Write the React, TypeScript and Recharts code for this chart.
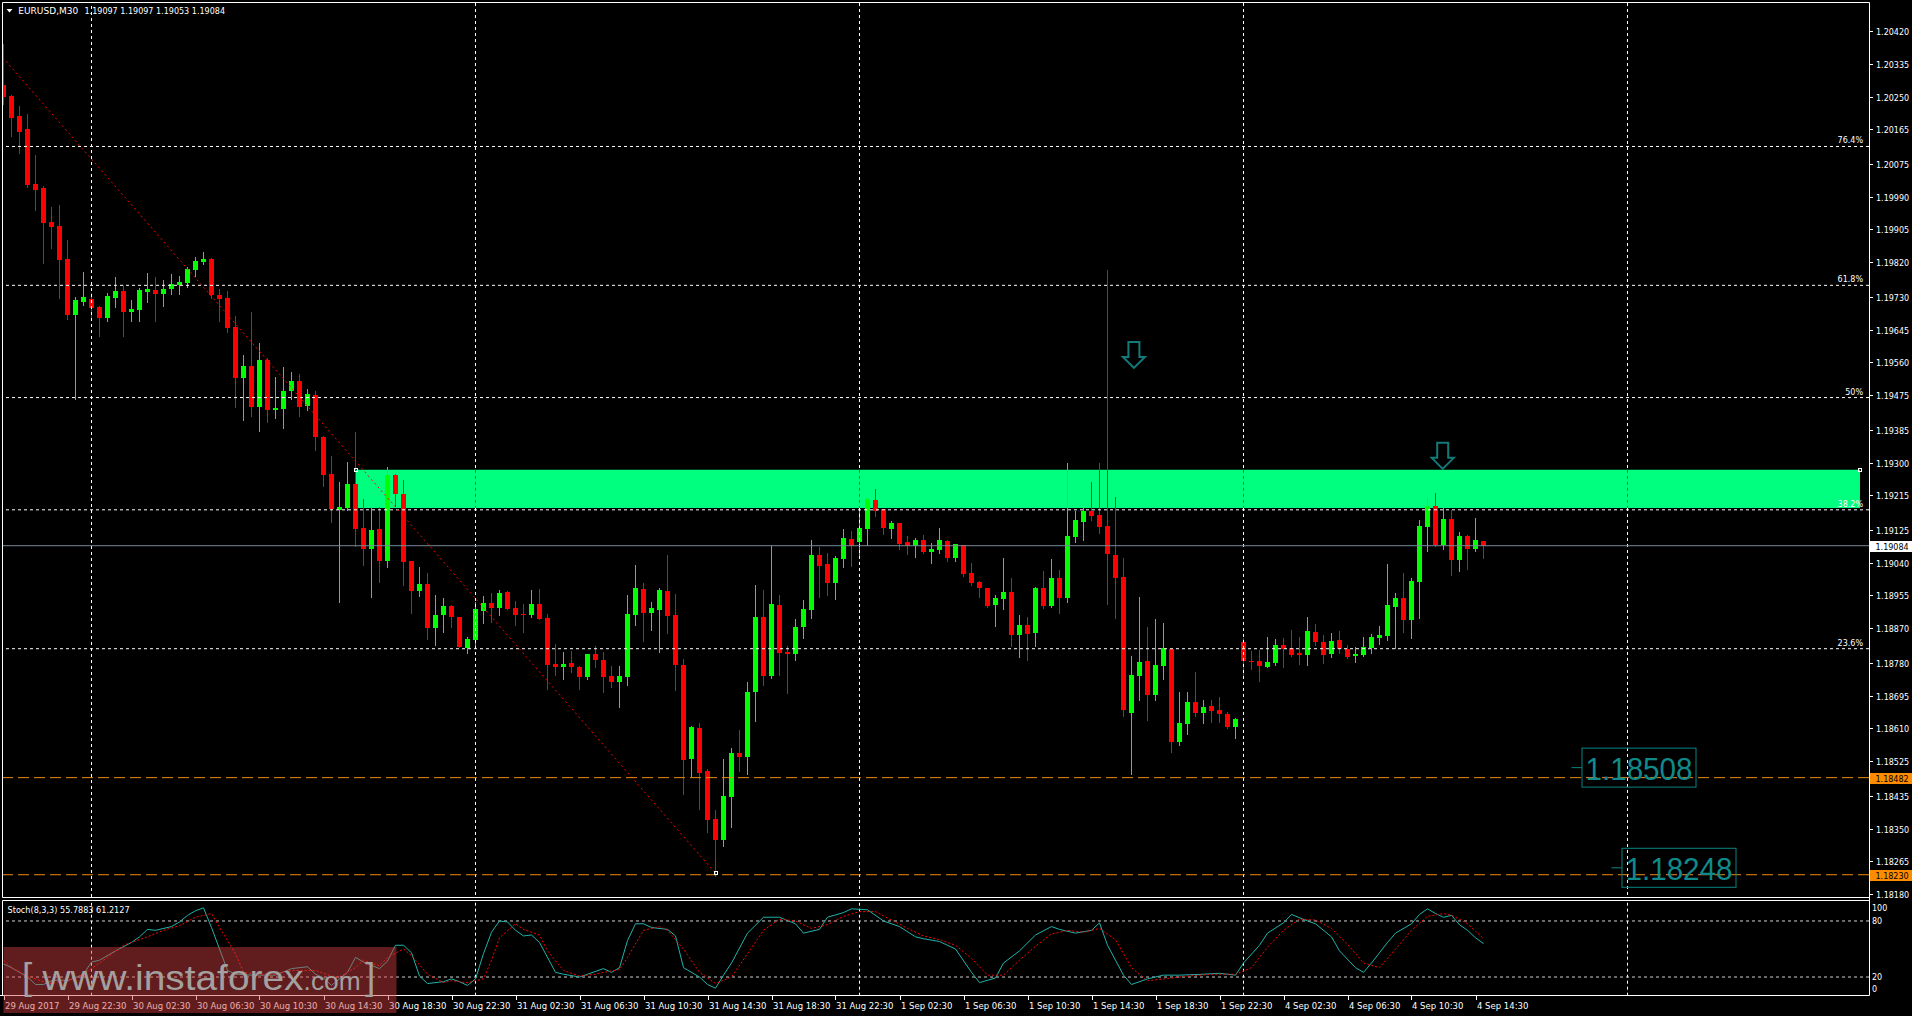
import React from "react";
import { ComposedChart, Bar, Line, XAxis, YAxis, ReferenceLine, ReferenceArea, ReferenceDot } from "recharts";

// ---------- data (EURUSD M30, bar 0 = 29 Aug 2017 18:30) ----------
const OPEN = [
  1.20279, 1.20252, 1.20200, 1.20165, 1.20023, 1.20013, 1.19924, 1.19914, 1.19828, 1.19684,
  1.19716, 1.19724, 1.19703, 1.19675, 1.19727, 1.19744, 1.19691, 1.19696, 1.19743, 1.19747,
  1.19738, 1.19750, 1.19760, 1.19765, 1.19800, 1.19820, 1.19828, 1.19736, 1.19726, 1.19651,
  1.19519, 1.19550, 1.19444, 1.19566, 1.19437, 1.19439, 1.19485, 1.19511, 1.19446, 1.19476,
  1.19366, 1.19270, 1.19178, 1.19182, 1.19244, 1.19130, 1.19076, 1.19127, 1.19045, 1.19268,
  1.19218, 1.19044, 1.18967, 1.18985, 1.18871, 1.18903, 1.18928, 1.18899, 1.18819, 1.18838,
  1.18915, 1.18935, 1.18923, 1.18964, 1.18922, 1.18907, 1.18905, 1.18933, 1.18896, 1.18777,
  1.18768, 1.18780, 1.18769, 1.18742, 1.18803, 1.18787, 1.18746, 1.18730, 1.18743, 1.18904,
  1.18972, 1.18909, 1.18917, 1.18966, 1.18904, 1.18774, 1.18530, 1.18611, 1.18499, 1.18375,
  1.18320, 1.18432, 1.18546, 1.18536, 1.18704, 1.18899, 1.18746, 1.18930, 1.18808, 1.18803,
  1.18873, 1.18917, 1.19060, 1.19037, 1.18987, 1.19050, 1.19101, 1.19094, 1.19127, 1.19203,
  1.19179, 1.19127, 1.19143, 1.19094, 1.19082, 1.19099, 1.19068, 1.19073, 1.19096, 1.19053,
  1.19086, 1.19013, 1.18989, 1.18974, 1.18931, 1.18946, 1.18964, 1.18851, 1.18878, 1.18858,
  1.18974, 1.18928, 1.19000, 1.18949, 1.19107, 1.19146, 1.19174, 1.19164, 1.19135, 1.19060,
  1.19003, 1.18651, 1.18745, 1.18785, 1.18696, 1.18773, 1.18815, 1.18575, 1.18622, 1.18678,
  1.18651, 1.18667, 1.18658, 1.18647, 1.18614, 1.18834, 1.18786, 1.18785, 1.18770, 1.18780,
  1.18826, 1.18818, 1.18806, 1.18801, 1.18860, 1.18834, 1.18804, 1.18839, 1.18816, 1.18799,
  1.18801, 1.18819, 1.18845, 1.18850, 1.18926, 1.18948, 1.18892, 1.18991, 1.19133, 1.19187,
  1.19087, 1.19153, 1.19048, 1.19109, 1.19076, 1.19097,
];
const HIGH = [
  1.20385, 1.20255, 1.20226, 1.20205, 1.20098, 1.20017, 1.19963, 1.19968, 1.19877, 1.19729,
  1.19794, 1.19739, 1.19707, 1.19740, 1.19781, 1.19760, 1.19721, 1.19753, 1.19791, 1.19781,
  1.19773, 1.19789, 1.19784, 1.19807, 1.19833, 1.19846, 1.19830, 1.19751, 1.19744, 1.19680,
  1.19578, 1.19690, 1.19610, 1.19570, 1.19521, 1.19547, 1.19534, 1.19530, 1.19492, 1.19485,
  1.19369, 1.19317, 1.19250, 1.19301, 1.19379, 1.19204, 1.19185, 1.19185, 1.19288, 1.19269,
  1.19255, 1.19045, 1.19029, 1.19013, 1.18956, 1.18948, 1.18930, 1.18900, 1.18846, 1.18939,
  1.18954, 1.18961, 1.18969, 1.18967, 1.18941, 1.18933, 1.18969, 1.18972, 1.18907, 1.18830,
  1.18809, 1.18812, 1.18772, 1.18803, 1.18824, 1.18809, 1.18772, 1.18772, 1.18956, 1.19034,
  1.18987, 1.18938, 1.18974, 1.19060, 1.18959, 1.18790, 1.18616, 1.18624, 1.18504, 1.18398,
  1.18530, 1.18559, 1.18606, 1.18730, 1.18982, 1.18969, 1.19083, 1.18956, 1.18824, 1.18894,
  1.18943, 1.19099, 1.19081, 1.19065, 1.19057, 1.19127, 1.19122, 1.19177, 1.19208, 1.19231,
  1.19179, 1.19148, 1.19143, 1.19109, 1.19104, 1.19111, 1.19091, 1.19130, 1.19099, 1.19089,
  1.19086, 1.19039, 1.18992, 1.18974, 1.18956, 1.19052, 1.19000, 1.18904, 1.18899, 1.18977,
  1.19018, 1.19049, 1.19021, 1.19298, 1.19174, 1.19181, 1.19249, 1.19298, 1.19799, 1.19210,
  1.19052, 1.18797, 1.18951, 1.18873, 1.18894, 1.18883, 1.18815, 1.18704, 1.18704, 1.18756,
  1.18683, 1.18684, 1.18691, 1.18652, 1.18637, 1.18844, 1.18811, 1.18813, 1.18847, 1.18842,
  1.18844, 1.18865, 1.18847, 1.18899, 1.18881, 1.18852, 1.18857, 1.18863, 1.18826, 1.18821,
  1.18847, 1.18856, 1.18876, 1.19037, 1.18961, 1.19013, 1.19000, 1.19151, 1.19208, 1.19221,
  1.19182, 1.19177, 1.19120, 1.19113, 1.19156, 1.19097,
];
const LOW = [
  1.20231, 1.20147, 1.20104, 1.20016, 1.19955, 1.19817, 1.19857, 1.19727, 1.19673, 1.19464,
  1.19710, 1.19673, 1.19629, 1.19667, 1.19704, 1.19629, 1.19666, 1.19667, 1.19717, 1.19666,
  1.19707, 1.19738, 1.19738, 1.19756, 1.19785, 1.19814, 1.19728, 1.19666, 1.19640, 1.19444,
  1.19411, 1.19420, 1.19382, 1.19404, 1.19416, 1.19390, 1.19464, 1.19420, 1.19436, 1.19332,
  1.19239, 1.19146, 1.18939, 1.19177, 1.19082, 1.19034, 1.18952, 1.18991, 1.19030, 1.19187,
  1.18982, 1.18910, 1.18954, 1.18842, 1.18826, 1.18860, 1.18874, 1.18820, 1.18806, 1.18822,
  1.18884, 1.18887, 1.18905, 1.18920, 1.18878, 1.18861, 1.18900, 1.18893, 1.18713, 1.18749,
  1.18737, 1.18755, 1.18713, 1.18737, 1.18770, 1.18705, 1.18718, 1.18666, 1.18722, 1.18878,
  1.18837, 1.18865, 1.18808, 1.18857, 1.18709, 1.18440, 1.18486, 1.18401, 1.18341, 1.18227,
  1.18305, 1.18354, 1.18499, 1.18491, 1.18629, 1.18722, 1.18741, 1.18748, 1.18702, 1.18787,
  1.18844, 1.18896, 1.18951, 1.18956, 1.18946, 1.19029, 1.19031, 1.19057, 1.19086, 1.19161,
  1.19114, 1.19104, 1.19075, 1.19062, 1.19055, 1.19066, 1.19040, 1.19066, 1.19045, 1.19045,
  1.19006, 1.18983, 1.18952, 1.18924, 1.18876, 1.18920, 1.18824, 1.18794, 1.18788, 1.18824,
  1.18923, 1.18926, 1.18910, 1.18938, 1.19094, 1.19100, 1.19152, 1.19117, 1.18933, 1.18897,
  1.18643, 1.18492, 1.18683, 1.18632, 1.18684, 1.18738, 1.18549, 1.18567, 1.18594, 1.18643,
  1.18625, 1.18627, 1.18627, 1.18612, 1.18586, 1.18744, 1.18764, 1.18734, 1.18768, 1.18775,
  1.18770, 1.18799, 1.18778, 1.18775, 1.18827, 1.18780, 1.18796, 1.18806, 1.18793, 1.18783,
  1.18799, 1.18806, 1.18830, 1.18840, 1.18819, 1.18861, 1.18845, 1.18897, 1.19069, 1.19084,
  1.19076, 1.19009, 1.19019, 1.19024, 1.19069, 1.19053,
];
const CLOSE = [
  1.20250, 1.20195, 1.20159, 1.20021, 1.20008, 1.19922, 1.19911, 1.19825, 1.19684, 1.19721,
  1.19729, 1.19701, 1.19675, 1.19732, 1.19744, 1.19691, 1.19698, 1.19747, 1.19750, 1.19738,
  1.19750, 1.19763, 1.19768, 1.19802, 1.19823, 1.19828, 1.19736, 1.19725, 1.19649, 1.19519,
  1.19550, 1.19444, 1.19566, 1.19435, 1.19442, 1.19485, 1.19511, 1.19444, 1.19478, 1.19365,
  1.19268, 1.19179, 1.19185, 1.19244, 1.19128, 1.19076, 1.19125, 1.19045, 1.19268, 1.19217,
  1.19043, 1.18967, 1.18985, 1.18871, 1.18904, 1.18928, 1.18900, 1.18822, 1.18842, 1.18920,
  1.18935, 1.18923, 1.18961, 1.18921, 1.18905, 1.18903, 1.18933, 1.18895, 1.18775, 1.18768,
  1.18777, 1.18768, 1.18742, 1.18803, 1.18788, 1.18744, 1.18730, 1.18746, 1.18907, 1.18974,
  1.18909, 1.18922, 1.18969, 1.18902, 1.18774, 1.18528, 1.18613, 1.18494, 1.18372, 1.18320,
  1.18434, 1.18546, 1.18536, 1.18704, 1.18899, 1.18746, 1.18933, 1.18806, 1.18803, 1.18873,
  1.18920, 1.19060, 1.19031, 1.18987, 1.19052, 1.19104, 1.19083, 1.19130, 1.19205, 1.19174,
  1.19130, 1.19143, 1.19088, 1.19082, 1.19099, 1.19068, 1.19075, 1.19099, 1.19053, 1.19089,
  1.19011, 1.18988, 1.18973, 1.18928, 1.18948, 1.18964, 1.18851, 1.18878, 1.18856, 1.18974,
  1.18928, 1.19000, 1.18949, 1.19109, 1.19151, 1.19174, 1.19160, 1.19132, 1.19063, 1.19001,
  1.18658, 1.18748, 1.18781, 1.18696, 1.18774, 1.18818, 1.18575, 1.18623, 1.18678, 1.18651,
  1.18666, 1.18656, 1.18648, 1.18614, 1.18634, 1.18786, 1.18782, 1.18773, 1.18782, 1.18826,
  1.18816, 1.18801, 1.18801, 1.18863, 1.18835, 1.18801, 1.18837, 1.18816, 1.18796, 1.18803,
  1.18821, 1.18847, 1.18853, 1.18930, 1.18948, 1.18892, 1.18992, 1.19135, 1.19187, 1.19087,
  1.19153, 1.19048, 1.19109, 1.19076, 1.19099, 1.19084,
];

const TIME_TICK_BARS = [0, 8, 16, 24, 32, 40, 48, 56, 64, 72, 80, 88, 96, 104, 112, 120, 128, 136, 144, 152, 160, 168, 176, 184];
const TIME_LABELS = [
  "29 Aug 2017", "29 Aug 22:30", "30 Aug 02:30", "30 Aug 06:30", "30 Aug 10:30", "30 Aug 14:30",
  "30 Aug 18:30", "30 Aug 22:30", "31 Aug 02:30", "31 Aug 06:30", "31 Aug 10:30", "31 Aug 14:30",
  "31 Aug 18:30", "31 Aug 22:30", "1 Sep 02:30", "1 Sep 06:30", "1 Sep 10:30", "1 Sep 14:30",
  "1 Sep 18:30", "1 Sep 22:30", "4 Sep 02:30", "4 Sep 06:30", "4 Sep 10:30", "4 Sep 14:30",
];
const PRICE_TICKS = [
  1.2042, 1.20335, 1.2025, 1.20165, 1.20075, 1.1999, 1.19905, 1.1982, 1.1973, 1.19645, 1.1956,
  1.19475, 1.19385, 1.193, 1.19215, 1.19125, 1.1904, 1.18955, 1.1887, 1.1878, 1.18695, 1.1861,
  1.18525, 1.18435, 1.1835, 1.18265, 1.1818,
];
const GRID_BARS = [11, 59, 107, 155, 203];

const STOCH_MAIN = [
  [0, 34], [1, 30], [3, 20], [4, 12], [5, 12], [6, 16], [7, 17], [8, 16], [10, 23], [11, 36], [12, 38],
  [14, 48], [16, 57], [17, 63], [18, 71], [19, 70], [21, 74], [22, 79], [23, 86], [24, 91], [25, 94],
  [26, 73], [27, 50], [28, 27], [29, 23], [31, 22], [33, 22], [34, 22], [36, 29], [38, 31], [39, 23],
  [40, 19], [41, 11], [43, 25], [44, 41], [45, 36], [47, 29], [48, 37], [49, 54], [50, 54], [51, 46],
  [52, 21], [53, 13], [55, 15], [56, 18], [57, 15], [58, 11], [59, 18], [60, 45], [61, 68], [62, 80],
  [63, 79], [64, 70], [65, 64], [66, 65], [67, 57], [69, 25], [70, 23], [72, 20], [73, 23], [75, 29],
  [76, 25], [77, 30], [78, 59], [79, 77], [80, 77], [81, 73], [83, 71], [84, 64], [85, 30], [87, 20],
  [88, 12], [89, 8], [90, 22], [91, 35], [93, 67], [95, 84], [97, 84], [99, 77], [100, 67], [102, 71],
  [103, 84], [105, 89], [106, 93], [108, 92], [110, 80], [112, 74], [114, 63], [115, 61], [117, 58],
  [119, 50], [121, 25], [122, 14], [124, 19], [125, 35], [127, 48], [129, 65], [131, 74], [132, 71],
  [134, 67], [136, 70], [137, 78], [138, 54], [140, 22], [141, 12], [143, 18], [145, 22], [147, 22],
  [150, 23], [152, 24], [154, 22], [155, 35], [157, 54], [158, 67], [160, 78], [161, 87], [163, 80],
  [164, 77], [166, 63], [167, 48], [169, 30], [170, 25], [171, 35], [173, 57], [174, 67], [176, 77],
  [177, 87], [178, 93], [179, 88], [180, 84], [181, 86], [182, 76], [183, 70], [184, 62], [185, 55.7883],
];
const STOCH_SIGNAL = [
  [0, 38], [1, 30], [3, 21], [5, 15], [6, 13], [7, 15], [9, 18], [11, 29], [13, 41], [15, 54], [18, 63],
  [20, 70], [22, 75], [24, 84], [26, 88], [27, 73], [29, 45], [30, 25], [32, 23], [34, 23], [36, 27],
  [39, 27], [41, 21], [42, 20], [44, 30], [45, 38], [47, 32], [48, 41], [50, 50], [51, 43], [53, 23],
  [55, 14], [56, 16], [58, 14], [60, 18], [61, 38], [62, 62], [64, 77], [65, 71], [67, 65], [68, 48],
  [70, 27], [72, 21], [74, 23], [75, 25], [77, 28], [78, 41], [80, 70], [82, 74], [83, 70], [85, 50],
  [87, 25], [89, 13], [91, 20], [93, 45], [95, 70], [97, 82], [99, 80], [101, 72], [103, 76], [105, 85],
  [107, 90], [109, 90], [111, 81], [113, 72], [115, 64], [117, 60], [119, 54], [121, 40], [123, 22],
  [125, 22], [127, 38], [129, 53], [131, 66], [133, 70], [135, 68], [137, 72], [139, 60], [141, 30],
  [143, 16], [145, 18], [148, 21], [151, 23], [154, 23], [156, 30], [158, 52], [160, 70], [162, 82],
  [164, 81], [166, 72], [168, 55], [170, 35], [172, 30], [174, 50], [176, 70], [178, 85], [180, 88],
  [181, 86], [182, 82], [183, 77], [184, 69], [185, 61.2127],
];

const LAST_PRICE = 1.19084;
const ORANGE_LEVELS = [1.18482, 1.1823];
const ZONE_START_BAR = 44.06;
const ZONE_END_BAR = 232.06;
const ZONE_LOW = 1.19182;
const ZONE_HIGH = 1.19281;
const FIB_LOW = 1.18234;
const FIB_HIGH = 1.20703;
const FIB_START_BAR = -14.9;
const FIB_END_BAR = 89;
const FIB_LEVELS = [0.236, 0.382, 0.5, 0.618, 0.764];
const FIB_LABELS = ["23.6%", "38.2%", "50%", "61.8%", "76.4%"];
const TEXT_BOX_BARS = [196, 201];
const TEXT_BOX_PRICES = [1.18508, 1.18248];
const ARROW_BARS = [141.3, 179.9];
const ARROW_PRICES = [1.19613, 1.19351];

// ---------- layout ----------
const W = 1912;
const X_MIN = -0.0625;
const X_MAX = 233.1875;
const Y_MIN = 1.181722;
const Y_MAX = 1.204927;
const BULL = "#00ff00";
const BEAR = "#ff0000";
const TEAL = "#0b8383";
const FONT = "DejaVu Sans";

const CANDLES = OPEN.map((o, i) => ({ i, o, h: HIGH[i], l: LOW[i], c: CLOSE[i], range: [LOW[i], HIGH[i]] }));
const MAIN_DATA = STOCH_MAIN.map(([i, v]) => ({ i, v }));
const SIGNAL_DATA = STOCH_SIGNAL.map(([i, v]) => ({ i, v }));

const Candle = (props: any) => {
  const { x, y, width, height, payload } = props;
  if (!payload || height === undefined) return null;
  const top = Math.min(y, y + height);
  const h = Math.abs(height);
  const hi = payload.h, lo = payload.l, o = payload.o, c = payload.c;
  const k = h / (hi - lo);
  const py = (p: number) => top + (hi - p) * k;
  const cx = x + width / 2;
  const bx = Math.round(cx - 2.5);
  const color = c >= o ? BULL : BEAR;
  const wTop = Math.round(top);
  const wBot = Math.round(top + h);
  const bTop = Math.round(py(Math.max(o, c)));
  let bBot = Math.round(py(Math.min(o, c)));
  if (bBot - bTop < 1) bBot = bTop + 1;
  return (
    <g>
      <rect x={bx + 2} y={wTop} width={1} height={Math.max(1, wBot - wTop + 1)} fill={color} />
      <rect x={bx} y={bTop} width={5} height={bBot - bTop} fill={color} />
    </g>
  );
};

const PriceTick = (props: any) => {
  const { y, payload } = props;
  const yy = Math.round(y) + 0.5;
  return (
    <g>
      <line x1={1870} x2={1873} y1={yy} y2={yy} stroke="#fff" />
      <text x={1876} y={yy + 3} fill="#fff" fontSize={8} fontFamily={FONT}>{payload.value.toFixed(5)}</text>
    </g>
  );
};

const StochTick = (props: any) => {
  const { y, payload } = props;
  const v = payload.value;
  const dy = v === 100 ? 8.4 : v === 0 ? -3.7 : 3;
  return <text x={1872} y={y + dy} fill="#fff" fontSize={8} fontFamily={FONT}>{String(v)}</text>;
};

const TimeTick = (props: any) => {
  const { x, payload } = props;
  const idx = TIME_TICK_BARS.indexOf(payload.value);
  const xx = Math.round(x) + 0.5;
  return (
    <g>
      <line x1={xx} x2={xx} y1={95.7} y2={100} stroke="#fff" />
      <text x={xx + 0.5} y={108.8} fill="#fff" fontSize={8.5} fontFamily={FONT}>{TIME_LABELS[idx]}</text>
    </g>
  );
};

const fibLabel = (text: string) => (p: any) => {
  const vb = p.viewBox;
  return (
    <text x={vb.x + vb.width - 6} y={vb.y - 3} textAnchor="end" fill="#fff" fontSize={8} fontFamily={FONT}>{text}</text>
  );
};

const priceTag = (text: string, bg: string, fg: string) => (p: any) => {
  const vb = p.viewBox;
  const y = Math.round(vb.y);
  return (
    <g>
      <rect x={1870} y={y - 5} width={42} height={11} fill={bg} />
      <text x={1875.5} y={y + 3.5} fill={fg} fontSize={8} fontFamily={FONT}>{text}</text>
    </g>
  );
};

const boxLabel = (text: string) => (p: any) => {
  const { cx, cy } = p;
  return (
    <g>
      <line x1={cx} x2={cx + 10.5} y1={cy} y2={cy} stroke={TEAL} />
      <rect x={cx + 10.5} y={cy - 19.5} width={114} height={39} fill="none" stroke={TEAL} />
      <text x={cx + 14} y={cy + 12.5} fill="#108a8a" fontSize={32} fontFamily="Liberation Sans" textLength={107} lengthAdjust="spacingAndGlyphs">{text}</text>
    </g>
  );
};

const ArrowShape = (p: any) => {
  const { cx, cy } = p;
  const pts = [[-5.5, 0], [5.5, 0], [5.5, 15], [11, 15], [0, 26], [-11, 15], [-5.5, 15]]
    .map(([dx, dy]) => `${cx + dx},${cy + dy}`).join(" ");
  return <polygon points={pts} fill="none" stroke="#137a7a" strokeWidth={2} />;
};

const SmallSquare = (p: any) => {
  const { cx, cy } = p;
  return <rect x={Math.round(cx) - 1.5} y={Math.round(cy) - 1.5} width={3} height={3} fill="none" stroke="#fff" strokeWidth={1} />;
};

export default function App() {
  const fibPrice = (lv: number) => FIB_LOW + lv * (FIB_HIGH - FIB_LOW);
  return (
    <div style={{ position: "relative", width: W, height: 1016, background: "#000", overflow: "hidden" }}>
      <style>{`html,body{margin:0;padding:0;background:#000;overflow:hidden}`}</style>

      {/* main price panel */}
      <div style={{ position: "absolute", left: 0, top: 0 }}>
        <ComposedChart width={W} height={900} data={CANDLES} margin={{ top: 3, right: 0, bottom: 3, left: 3 }}>
          <XAxis type="number" dataKey="i" domain={[X_MIN, X_MAX]} allowDataOverflow hide />
          <YAxis
            orientation="right"
            type="number"
            domain={[Y_MIN, Y_MAX]}
            allowDataOverflow
            ticks={PRICE_TICKS}
            interval={0}
            width={43}
            axisLine={false}
            tickLine={false}
            tick={PriceTick}
          />
          <ReferenceArea x1={ZONE_START_BAR} x2={ZONE_END_BAR} y1={ZONE_LOW} y2={ZONE_HIGH} fill="#00ff7f" fillOpacity={1} stroke="none" ifOverflow="hidden" />
          {GRID_BARS.map((b) =>
            b > ZONE_START_BAR ? (
              <React.Fragment key={b}>
                <ReferenceLine segment={[{ x: b, y: Y_MAX }, { x: b, y: ZONE_HIGH }]} stroke="#fff" strokeDasharray="3 3" ifOverflow="hidden" />
                <ReferenceLine segment={[{ x: b, y: ZONE_HIGH }, { x: b, y: ZONE_LOW }]} stroke="#ff0080" strokeDasharray="3 3" ifOverflow="hidden" />
                <ReferenceLine segment={[{ x: b, y: ZONE_LOW }, { x: b, y: Y_MIN }]} stroke="#fff" strokeDasharray="3 3" ifOverflow="hidden" />
              </React.Fragment>
            ) : (
              <ReferenceLine key={b} x={b} stroke="#fff" strokeDasharray="3 3" ifOverflow="hidden" />
            )
          )}
          {FIB_LEVELS.map((lv, k) => (
            <ReferenceLine key={"f" + k} y={fibPrice(lv)} stroke="#fff" strokeDasharray="3 3" label={fibLabel(FIB_LABELS[k])} />
          ))}
          <ReferenceLine
            segment={[{ x: FIB_START_BAR, y: FIB_HIGH }, { x: FIB_END_BAR, y: FIB_LOW }]}
            stroke="#ff0000"
            strokeDasharray="2 3"
            ifOverflow="hidden"
          />
          {ORANGE_LEVELS.map((p) => (
            <ReferenceLine key={"o" + p} y={p} stroke="#f08a1a" strokeDasharray="11 5" label={priceTag(p.toFixed(5), "#ff8c00", "#000")} />
          ))}
          <ReferenceLine y={LAST_PRICE} stroke="#778899" label={priceTag(LAST_PRICE.toFixed(5), "#ffffff", "#000")} />
          <Bar dataKey="range" shape={Candle} barSize={5} isAnimationActive={false} />
          <ReferenceDot x={FIB_END_BAR} y={FIB_LOW} r={2} shape={SmallSquare} />
          <ReferenceDot x={ZONE_START_BAR} y={ZONE_HIGH} r={2} shape={SmallSquare} />
          <ReferenceDot x={ZONE_END_BAR} y={ZONE_HIGH} r={2} shape={SmallSquare} />
          {ARROW_BARS.map((b, k) => (
            <ReferenceDot key={"a" + k} x={b} y={ARROW_PRICES[k]} r={2} shape={ArrowShape} />
          ))}
          {TEXT_BOX_BARS.map((b, k) => (
            <ReferenceDot key={"t" + k} x={b} y={TEXT_BOX_PRICES[k]} r={2} shape={boxLabel(TEXT_BOX_PRICES[k].toFixed(5))} />
          ))}
        </ComposedChart>
      </div>

      {/* stochastic panel */}
      <div style={{ position: "absolute", left: 0, top: 900 }}>
        <ComposedChart width={W} height={116} margin={{ top: 2.3, right: 0, bottom: 0, left: 3 }}>
          <XAxis
            type="number"
            dataKey="i"
            domain={[X_MIN, X_MAX]}
            allowDataOverflow
            ticks={TIME_TICK_BARS}
            interval={0}
            height={20.3}
            axisLine={false}
            tickLine={false}
            tick={TimeTick}
          />
          <YAxis
            orientation="right"
            type="number"
            domain={[0, 100]}
            allowDataOverflow
            ticks={[0, 20, 80, 100]}
            interval={0}
            width={43}
            axisLine={false}
            tickLine={false}
            tick={StochTick}
          />
          {GRID_BARS.map((b) => (
            <ReferenceLine key={b} x={b} stroke="#fff" strokeDasharray="3 3" ifOverflow="hidden" />
          ))}
          <ReferenceLine y={80} stroke="#d0d0d0" strokeDasharray="3 3" />
          <ReferenceLine y={20} stroke="#d0d0d0" strokeDasharray="3 3" />
          <Line data={MAIN_DATA} dataKey="v" type="linear" stroke="#20b2aa" strokeWidth={1} dot={false} isAnimationActive={false} />
          <Line data={SIGNAL_DATA} dataKey="v" type="linear" stroke="#ff0000" strokeWidth={1} strokeDasharray="2 2" dot={false} isAnimationActive={false} />
        </ComposedChart>
      </div>

      {/* frames, captions, watermark */}
      <svg width={W} height={1016} style={{ position: "absolute", left: 0, top: 0, pointerEvents: "none" }}>
        <g stroke="#fff" strokeWidth={1} fill="none">
          <line x1={2.5} y1={2.5} x2={1869.5} y2={2.5} />
          <line x1={2.5} y1={2.5} x2={2.5} y2={897.5} />
          <line x1={2.5} y1={897.5} x2={1869.5} y2={897.5} />
          <line x1={2.5} y1={900.5} x2={1869.5} y2={900.5} />
          <line x1={2.5} y1={900.5} x2={2.5} y2={995.5} />
          <line x1={0} y1={995.5} x2={1869.5} y2={995.5} />
          <line x1={1869.5} y1={2.5} x2={1869.5} y2={995.5} />
        </g>
        <polygon points="6.5,9 12.5,9 9.5,12.5" fill="#fff" />
        <text x={18.3} y={14} fill="#fff" fontSize={8.5} fontFamily={FONT} textLength={60} lengthAdjust="spacingAndGlyphs">EURUSD,M30</text>
        <text x={84.5} y={14} fill="#fff" fontSize={8.5} fontFamily={FONT} textLength={140.5} lengthAdjust="spacingAndGlyphs">1.19097 1.19097 1.19053 1.19084</text>
        <text x={7.6} y={913} fill="#fff" fontSize={8.5} fontFamily={FONT} textLength={122} lengthAdjust="spacingAndGlyphs">Stoch(8,3,3) 55.7883 61.2127</text>

        <rect x={3.5} y={947} width={393} height={66} fill="#d84040" fillOpacity={0.45} />
        <g fill="#a4a0a0" fontFamily="Liberation Sans">
          <text x={22} y={989} fontSize={37}>[</text>
          <text x={42.4} y={990} fontSize={35} textLength={261} lengthAdjust="spacingAndGlyphs">www.instaforex</text>
          <text x={303.6} y={990} fontSize={26} textLength={57} lengthAdjust="spacingAndGlyphs">.com</text>
          <text x={365} y={989} fontSize={37}>]</text>
        </g>
      </svg>
    </div>
  );
}
